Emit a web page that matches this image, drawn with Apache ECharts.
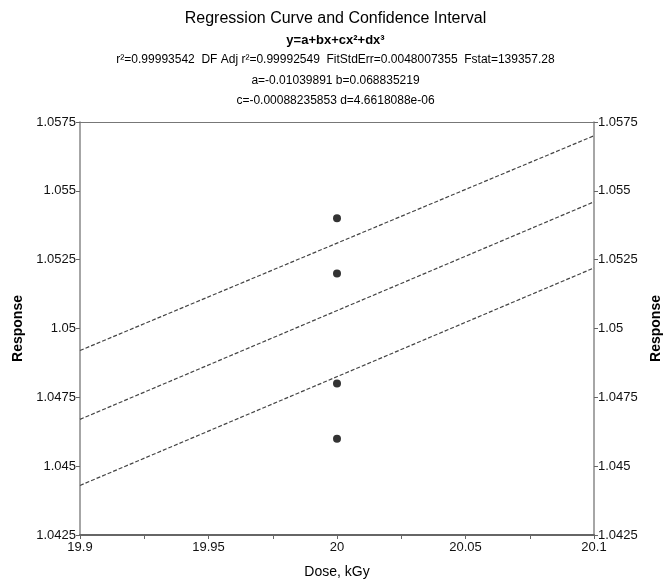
<!DOCTYPE html>
<html>
<head>
<meta charset="utf-8">
<script src="https://cdn.jsdelivr.net/npm/echarts@6/dist/echarts.min.js"></script>
<style>html,body{margin:0;padding:0;background:#fff}#c{width:671px;height:586px}</style>
</head>
<body>
<div id="c"></div>
<script>
const xRange = [19.9, 20.1];
const upperCI = [1.0492, 1.0570];
const fitLine = [1.0467, 1.0546];
const lowerCI = [1.0443, 1.0522];
const pointX = [20, 20, 20, 20];
const pointY = [1.054, 1.052, 1.048, 1.046];
const titleLines = [
  'Regression Curve and Confidence Interval',
  'y=a+bx+cx²+dx³',
  'r²=0.99993542  DF Adj r²=0.99992549  FitStdErr=0.0048007355  Fstat=139357.28',
  'a=-0.01039891 b=0.068835219',
  'c=-0.00088235853 d=4.6618088e-06'
];
const xTitle = 'Dose, kGy';
const yTitle = 'Response';

const font = 'Liberation Sans, Arial, sans-serif';
const pair = (xs, ys) => xs.map((x, i) => [x, ys[i]]);
const fmtY = v => String(Number(v.toFixed(4)));
const fmtX = v => String(Number(v.toFixed(2)));

const titleTops = [6, 29, 49, 70, 90];
const titleSizes = [16, 13, 12, 12, 12];
const titleWeights = ['normal', 'bold', 'normal', 'normal', 'normal'];

const lineStyle = {color: '#444', width: 1.2, type: [4, 2]};

const chart = echarts.init(document.getElementById('c'), null, {renderer: 'canvas'});
chart.setOption({
  animation: false,
  backgroundColor: '#fff',
  title: titleLines.map((t, i) => ({
    text: t, left: 'center', top: titleTops[i],
    textStyle: {fontFamily: font, fontSize: titleSizes[i], fontWeight: titleWeights[i], color: '#000'}
  })),
  grid: {left: 80, right: 72, top: 122, bottom: 51, containLabel: false},
  xAxis: [{
    type: 'value', min: 19.9, max: 20.1, interval: 0.05,
    name: xTitle, nameLocation: 'middle', nameGap: 30,
    nameTextStyle: {fontFamily: font, fontSize: 14, color: '#000'},
    axisLine: {show: true, lineStyle: {color: '#666', width: 2}},
    axisTick: {show: true, length: 4, lineStyle: {color: '#666'}},
    minorTick: {show: true, splitNumber: 2, length: 4, lineStyle: {color: '#666'}},
    splitLine: {show: false},
    axisLabel: {formatter: fmtX, fontFamily: font, fontSize: 13, color: '#111', margin: 6}
  }, {
    type: 'value', position: 'top', min: 19.9, max: 20.1,
    axisLine: {show: true, onZero: false, lineStyle: {color: '#777', width: 1}},
    axisTick: {show: false}, axisLabel: {show: false}, splitLine: {show: false}
  }],
  yAxis: [{
    type: 'value', position: 'left', min: 1.0425, max: 1.0575, interval: 0.0025,
    name: yTitle, nameLocation: 'middle', nameGap: 52, nameRotate: 90,
    nameTextStyle: {fontFamily: font, fontSize: 14, fontWeight: 'bold', color: '#000'},
    axisLine: {show: true, lineStyle: {color: '#888', width: 1.5}},
    axisTick: {show: true, length: 4, lineStyle: {color: '#666'}},
    splitLine: {show: false},
    axisLabel: {formatter: fmtY, fontFamily: font, fontSize: 13, color: '#111', margin: 4}
  }, {
    type: 'value', position: 'right', min: 1.0425, max: 1.0575, interval: 0.0025,
    name: yTitle, nameLocation: 'middle', nameGap: 55, nameRotate: 90,
    nameTextStyle: {fontFamily: font, fontSize: 14, fontWeight: 'bold', color: '#000'},
    axisLine: {show: true, lineStyle: {color: '#888', width: 1.5}},
    axisTick: {show: true, length: 4, lineStyle: {color: '#666'}},
    splitLine: {show: false},
    axisLabel: {formatter: fmtY, fontFamily: font, fontSize: 13, color: '#111', margin: 4}
  }],
  series: [
    {type: 'line', data: pair(xRange, upperCI), showSymbol: false, lineStyle, silent: true},
    {type: 'line', data: pair(xRange, fitLine), showSymbol: false, lineStyle, silent: true},
    {type: 'line', data: pair(xRange, lowerCI), showSymbol: false, lineStyle, silent: true},
    {type: 'scatter', data: pair(pointX, pointY), symbol: 'circle', symbolSize: 8,
     itemStyle: {color: '#000'}}
  ]
});
</script>
</body>
</html>
